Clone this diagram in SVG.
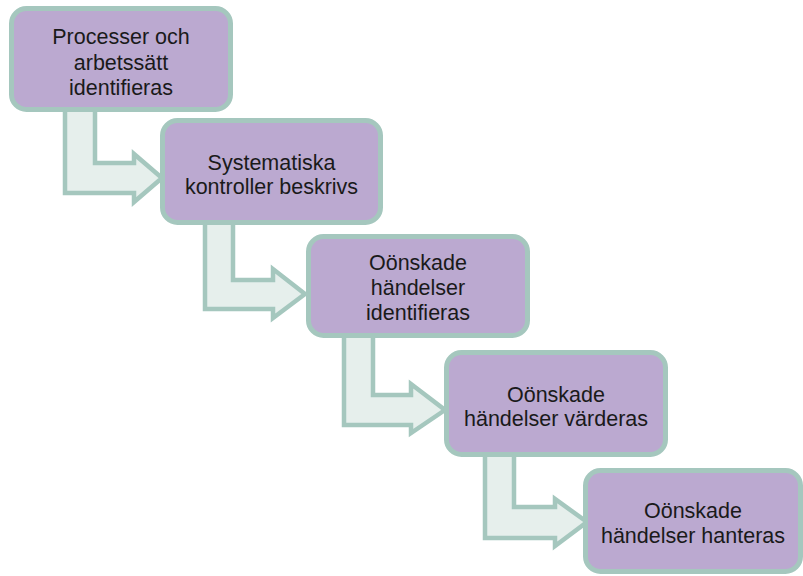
<svg xmlns="http://www.w3.org/2000/svg" width="803" height="576" viewBox="0 0 803 576">
<style>
.box{fill:#bba9d0;stroke:#a5c7be;stroke-width:5}
.arr{fill:#e6efec;stroke:#a5c7be;stroke-width:4.5;stroke-linejoin:miter}
text{font-family:"Liberation Sans",Arial,sans-serif;font-size:21.5px;fill:#1a1a1a;text-anchor:middle}
</style>
<rect width="803" height="576" fill="#ffffff"/>
<g id="connectors">
<path class="arr" d="M65,105 L65,193 L134,193 L134,202 L162,178 L134,154 L134,163 L95,163 L95,105 Z"/>
<path class="arr" d="M205,215 L205,309 L273,309 L273,318 L305,294 L273,269 L273,280 L233,280 L233,215 Z"/>
<path class="arr" d="M344,330 L344,425 L411,425 L411,433 L445,410 L411,384 L411,395 L373,395 L373,330 Z"/>
<path class="arr" d="M485,450 L485,538 L555,538 L555,546 L587,522 L555,499 L555,507 L514,507 L514,450 Z"/>
</g>
<g id="node1">
<rect class="box" x="11.5" y="8.5" width="219" height="101" rx="15"/>
<text x="121" y="44">Processer och</text>
<text x="121" y="70">arbetssätt</text>
<text x="121" y="95">identifieras</text>
</g>
<g id="node2">
<rect class="box" x="162.5" y="120.5" width="218" height="102" rx="15"/>
<text x="271.5" y="170">Systematiska</text>
<text x="271.5" y="194">kontroller beskrivs</text>
</g>
<g id="node3">
<rect class="box" x="308.5" y="236.5" width="219" height="99" rx="15"/>
<text x="418" y="270">Oönskade</text>
<text x="418" y="295">händelser</text>
<text x="418" y="320">identifieras</text>
</g>
<g id="node4">
<rect class="box" x="446.5" y="352.5" width="219" height="102" rx="15"/>
<text x="556" y="402">Oönskade</text>
<text x="556" y="426">händelser värderas</text>
</g>
<g id="node5">
<rect class="box" x="585.5" y="470.5" width="215" height="101" rx="15"/>
<text x="693" y="518">Oönskade</text>
<text x="693" y="543">händelser hanteras</text>
</g>
</svg>
